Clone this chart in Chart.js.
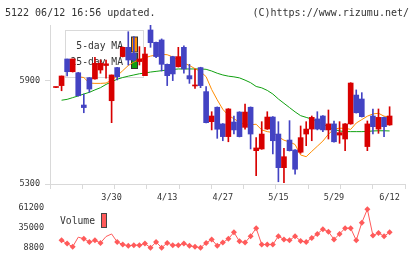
<!DOCTYPE html>
<html>
<head>
<meta charset="utf-8">
<script src="https://cdn.jsdelivr.net/npm/chart.js@4.4.1/dist/chart.umd.min.js"></script>
<style>
  html, body { margin: 0; padding: 0; background: #fff; }
  #wrap { position: relative; width: 420px; height: 259px; }
  #wrap canvas { position: absolute; left: 0; top: 0; }
</style>
</head>
<body>
<div id="wrap">
  <canvas id="price-chart" width="420" height="259"></canvas>
  <canvas id="volume-chart" width="420" height="259"></canvas>
</div>
<script>
// data
const dates = ["3/13","3/16","3/17","3/18","3/19","3/23","3/24","3/25","3/26","3/27",
  "3/30","3/31","4/1","4/2","4/3","4/6","4/7","4/8","4/9","4/10",
  "4/13","4/14","4/15","4/16","4/17","4/20","4/21","4/22","4/23","4/24",
  "4/27","4/28","4/30","5/1","5/7","5/8","5/11","5/12","5/13","5/14",
  "5/15","5/18","5/19","5/20","5/21","5/22","5/25","5/26","5/27","5/28",
  "5/29","6/1","6/2","6/3","6/4","6/5","6/8","6/9","6/10","6/11","6/12"];

const opens = [5862,5873,6028,5954,5948,5760,5919,5912,5964,5990,
  5785,5978,6042,6096,6061,6013,5931,6197,6125,6139,
  5997,6042,5983,6096,5931,5871,5978,5838,5663,5747,
  5650,5576,5661,5719,5630,5747,5494,5504,5620,5690,
  5591,5395,5556,5498,5485,5591,5620,5679,5696,5615,
  5650,5585,5562,5650,5818,5795,5518,5696,5620,5688,5644];
const highs = [5865,5929,6028,6028,5950,5824,5920,6038,6022,6022,
  5935,5980,6098,6187,6158,6100,6096,6226,6127,6145,
  5999,6044,6096,6104,5997,5970,5980,5867,5721,5749,
  5652,5739,5696,5721,5766,5749,5570,5663,5721,5692,
  5663,5508,5669,5500,5638,5663,5696,5721,5698,5731,
  5667,5663,5652,5890,5848,5832,5667,5737,5737,5690,5750];
const lows = [5861,5843,5929,5952,5812,5715,5834,5910,5945,5916,
  5657,5906,6040,5993,6015,5993,5931,6096,6036,5958,
  5873,5902,5981,5945,5886,5857,5861,5655,5615,5566,
  5552,5546,5591,5574,5619,5504,5348,5502,5618,5475,
  5313,5308,5492,5357,5479,5523,5552,5615,5605,5562,
  5544,5537,5494,5648,5713,5690,5494,5591,5595,5576,5642];
const closes = [5864,5929,5954,6028,5814,5745,5853,6003,6003,6000,
  5935,5925,6096,6022,6022,6028,6057,6123,6042,5997,
  5931,5941,6042,5970,5912,5874,5873,5657,5696,5619,
  5576,5737,5615,5576,5719,5591,5510,5591,5690,5552,
  5395,5459,5494,5386,5570,5620,5688,5620,5615,5650,
  5546,5599,5650,5888,5715,5692,5650,5634,5688,5634,5696];

const ma5 = [null,null,null,null,5925,5920,5888,5886,5886,5888,
  5905,5930,5960,5990,6010,6025,6035,6045,6051,6055,
  6053,6040,6020,6005,5990,5972,5955,5925,5850,5790,
  5735,5700,5680,5660,5645,5645,5648,5615,5605,5600,
  5575,5555,5545,5530,5469,5459,5490,5520,5550,5590,
  5620,5625,5624,5618,5655,5675,5695,5708,5712,5695,5690];
const ma25 = [null,5788,5793,5803,5813,5824,5834,5848,5861,5880,
  5895,5910,5920,5928,5935,5942,5946,5952,5956,5960,
  5964,5967,5970,5970,5970,5970,5970,5968,5958,5945,
  5935,5928,5924,5918,5905,5890,5868,5860,5845,5824,
  5795,5770,5745,5720,5698,5688,5678,5665,5648,5632,
  5618,5609,5605,5605,5605,5605,5606,5609,5610,5610,5609];

const volumes = [null,18690,14480,10270,22900,20800,16590,18690,15330,23750,
  27110,16590,13220,11540,12380,12380,14480,9010,16590,9010,
  15330,12380,12380,14480,11540,10270,9010,15330,19960,11540,
  15750,20800,29220,17430,15750,24170,34700,13220,13220,13220,
  24170,19960,18690,24170,17850,16590,21640,27110,33430,30060,
  19960,27110,34700,34700,18690,41900,59570,25010,28380,24170,29220];

const priceTicks = [5300, 5900];
const volumeTicks = [8800, 35000, 61200];
const dateTicks = ["3/30", "4/13", "4/27", "5/15", "5/29", "6/12"];

// styles
const UP = '#d80000';
const DOWN = '#4343c3';
const AXIS = '#d9d9d9';
const MONO = '"DejaVu Sans Mono", monospace';
const X_MIN = -1.08, X_MAX = 62.77;
const noMarker = [4, 9, 10];

const candleColor = ctx => closes[ctx.dataIndex] >= opens[ctx.dataIndex] ? UP : DOWN;

const header = {
  id: 'header',
  afterDraw(chart) {
    const c = chart.ctx;
    c.save();
    c.font = '10px ' + MONO;
    c.fillStyle = '#333';
    c.textBaseline = 'middle';
    c.textAlign = 'left';
    c.fillText('5122 06/12 16:56 updated.', 5, 13);
    c.textAlign = 'right';
    c.fillText('(C)https://www.rizumu.net/', 409, 13);
    c.restore();
  }
};

// legend sits under the candles
const maLegend = {
  id: 'maLegend',
  beforeDatasetsDraw(chart) {
    const c = chart.ctx;
    c.save();
    c.strokeStyle = '#d9d9d9';
    c.lineWidth = 1;
    c.strokeRect(65.5, 30.5, 78, 47);
    c.font = '9.7px ' + MONO;
    c.textAlign = 'right';
    c.textBaseline = 'middle';
    chart.data.datasets.filter(d => d.type === 'line').forEach((d, k) => {
      const y = 46 + k * 16.5;
      c.fillStyle = '#333';
      c.fillText(d.label, 123, y);
      c.fillStyle = d.borderColor;
      c.fillRect(131.5, y - 9, 6, 15);
      c.strokeStyle = '#333';
      c.strokeRect(131.5, y - 9, 6, 15);
    });
    c.restore();
  }
};

const volLegend = {
  id: 'volLegend',
  afterDatasetsDraw(chart) {
    const c = chart.ctx;
    const d = chart.data.datasets[0];
    c.save();
    c.font = '9.7px ' + MONO;
    c.fillStyle = '#333';
    c.textAlign = 'right';
    c.textBaseline = 'middle';
    c.fillText(d.label, 95, 221);
    c.fillStyle = d.borderColor;
    c.fillRect(101.5, 213.5, 5, 14);
    c.strokeStyle = '#444';
    c.strokeRect(101.5, 213.5, 5, 14);
    c.restore();
  }
};

new Chart(document.getElementById('price-chart'), {
  type: 'bar',
  data: {
    datasets: [
      {
        type: 'line', label: '5-day MA',
        data: ma5.map((v, i) => ({ x: i, y: v })),
        borderColor: '#ff8c00', borderWidth: 1, pointRadius: 0, order: 3
      },
      {
        type: 'line', label: '25-day MA',
        data: ma25.map((v, i) => ({ x: i, y: v })),
        borderColor: '#10a010', borderWidth: 1, pointRadius: 0, order: 3
      },
      {
        label: 'wick',
        data: lows.map((v, i) => ({ x: i, y: [v, highs[i]] })),
        backgroundColor: candleColor, barThickness: 1, grouped: false, order: 2
      },
      {
        label: 'body',
        data: opens.map((v, i) => ({ x: i, y: [v, closes[i]] })),
        backgroundColor: candleColor, barThickness: 5, minBarLength: 1, grouped: false, order: 1
      }
    ]
  },
  options: {
    responsive: false,
    animation: false,
    layout: { padding: { top: 25, right: 15, bottom: 70, left: 0 } },
    plugins: { legend: { display: false }, tooltip: { enabled: false } },
    scales: {
      x: {
        type: 'linear', min: X_MIN, max: X_MAX, offset: false,
        afterBuildTicks: s => {
          s.ticks = [];
          for (let k = 0; k <= 11; k++) s.ticks.push({ value: X_MIN + k * (X_MAX - X_MIN) / 11 });
        },
        afterFit: s => { s.height = 5; },
        ticks: { display: false },
        grid: { drawOnChartArea: false, offset: false, color: AXIS, tickLength: 5 },
        border: { color: AXIS }
      },
      y: {
        min: 5300, max: 6226,
        afterBuildTicks: s => { s.ticks = priceTicks.map(v => ({ value: v })); },
        afterFit: s => { s.width = 50; },
        ticks: { color: '#333', padding: 5, font: { family: MONO, size: 8.5 }, callback: v => String(v) },
        grid: { drawOnChartArea: false, color: AXIS, tickLength: 5 },
        border: { color: AXIS }
      }
    }
  },
  plugins: [header, maLegend]
});

new Chart(document.getElementById('volume-chart'), {
  type: 'line',
  data: {
    datasets: [{
      label: 'Volume',
      data: volumes.map((v, i) => ({ x: i, y: v })),
      borderColor: '#ff5a5a', backgroundColor: '#ff5a5a',
      borderWidth: 1, pointStyle: 'rectRot',
      pointRadius: ctx => noMarker.includes(ctx.dataIndex) ? 0 : 3,
      pointBorderWidth: 0, clip: false
    }]
  },
  options: {
    responsive: false,
    animation: false,
    layout: { padding: { top: 192, right: 15, bottom: 9.5, left: 0 } },
    plugins: { legend: { display: false }, tooltip: { enabled: false } },
    scales: {
      x: {
        type: 'linear', position: 'top', min: X_MIN, max: X_MAX,
        afterBuildTicks: s => { s.ticks = dateTicks.map(d => ({ value: dates.indexOf(d) })); },
        afterFit: s => { s.height = 16; },
        ticks: { color: '#333', padding: 5, font: { family: MONO, size: 8.5 }, maxRotation: 0,
          callback: v => dates[v] },
        grid: { display: false, drawTicks: false },
        border: { display: false }
      },
      y: {
        min: 8800, max: 61200,
        afterBuildTicks: s => { s.ticks = volumeTicks.map(v => ({ value: v })); },
        afterFit: s => { s.width = 50; },
        ticks: { color: '#333', padding: 6, font: { family: MONO, size: 8.5 }, callback: v => String(v) },
        grid: { display: false, drawTicks: false },
        border: { display: false }
      }
    }
  },
  plugins: [volLegend]
});
</script>
</body>
</html>
